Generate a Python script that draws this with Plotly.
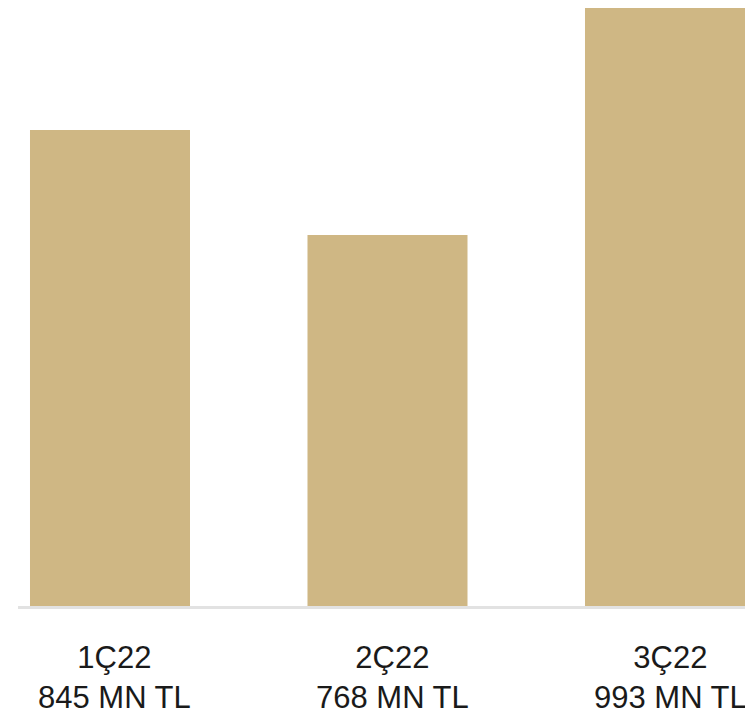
import plotly.graph_objects as go

categories = ["1Ç22", "2Ç22", "3Ç22"]
values = [845, 768, 993]
value_labels = ["845 MN TL", "768 MN TL", "993 MN TL"]

positions = list(range(len(categories)))

fig = go.Figure(
    go.Bar(
        x=positions,
        y=values,
        width=0.5766,
        marker=dict(color="#CFB784", line=dict(width=0)),
        hoverinfo="skip",
    )
)

for p, c, v in zip(positions, categories, value_labels):
    fig.add_annotation(
        x=p, y=0, xref="x", yref="paper",
        text=f"{c}<br>{v}",
        showarrow=False,
        xanchor="center", yanchor="top",
        yshift=-32, xshift=5,
        align="center",
        font=dict(family="Liberation Sans, Arial, sans-serif", size=31, color="#1a1a1a"),
    )

fig.update_layout(
    width=745,
    height=714,
    margin=dict(l=18, r=0, t=8, b=108),
    paper_bgcolor="white",
    plot_bgcolor="white",
    showlegend=False,
    font=dict(family="Liberation Sans, Arial, sans-serif", size=31, color="#1a1a1a"),
    xaxis=dict(
        range=[-0.3315, 2.2883],
        showticklabels=False,
        showgrid=False,
        zeroline=False,
        showline=True,
        linecolor="#E2E2E2",
        linewidth=3,
        ticks="",
        layer="below traces",
    ),
    yaxis=dict(
        range=[495.9, 934.4],
        visible=False,
        showgrid=False,
        zeroline=False,
    ),
)

fig.write_html("out.html")
